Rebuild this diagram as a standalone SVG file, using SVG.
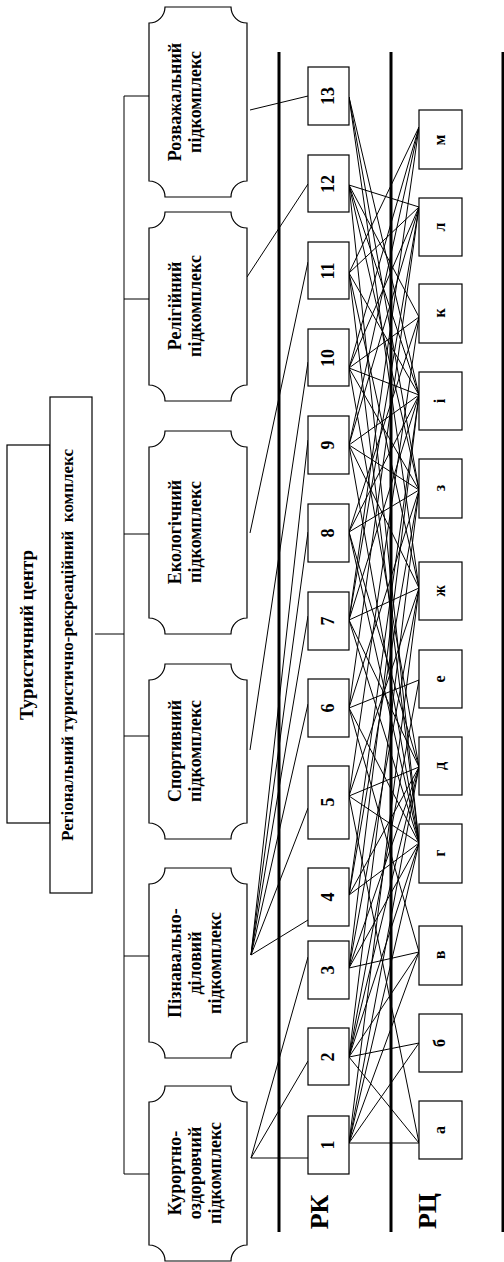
<svg xmlns="http://www.w3.org/2000/svg" width="504" height="1262" viewBox="0 0 504 1262">
<style>
.bx{fill:#fff;stroke:#000;stroke-width:1.2}
.t{font-family:"Liberation Serif","Times New Roman",serif;font-weight:bold;fill:#000;text-anchor:middle}
.sc{font-size:18px}
.num{font-size:18px}
.let{font-size:16px}
.ln{fill:none;stroke:#000;stroke-width:1}
.thick{stroke:#000;stroke-width:3}
</style>
<rect width="504" height="1262" fill="#fff"/>

<!-- axis lines and labels -->
<g id="axes">
<line class="thick" x1="279" y1="52" x2="279" y2="1232"/>
<line class="thick" x1="391" y1="52" x2="391" y2="1232"/>
<line class="thick" x1="503" y1="52" x2="503" y2="1232"/>
<text class="t" font-size="26" transform="translate(328,1212) rotate(-90)">РК</text>
<text class="t" font-size="26" transform="translate(436,1211) rotate(-90)">РЦ</text>
</g>

<g id="connectors" class="ln">
<!-- tree -->
<path d="M95,634 H124 M124,96 V1174 M124,96 H149 M124,299 H149 M124,534 H149 M124,736 H149 M124,956 H149 M124,1174 H149"/>
<!-- subcomplexes to RK -->
<path d="M250,110 L308,96 M247,277 L308,184 M250,533 L308,262 M250,750 L308,362
M251,955 L308,920 M251,955 L308,808 M251,955 L308,704 M251,955 L308,616 M251,955 L308,532 M251,955 L308,440
M251,1158 L308,1158 M251,1158 L308,1061 M251,1158 L308,957"/>
<!-- RK to RC -->
<path d="M349,1143 L419,1143 M349,1143 L419,1043 M349,1143 L419,952 M349,1143 L419,843 M349,1143 L419,767 M349,1143 L419,588"/>
<path d="M349,1057 L419,1143 M349,1057 L419,1043 M349,1057 L419,952 M349,1057 L419,843 M349,1057 L419,767 M349,1057 L419,680 M349,1057 L419,490"/>
<path d="M349,968 L419,952 M349,968 L419,843 M349,968 L419,767 M349,968 L419,588 M349,968 L419,395"/>
<path d="M349,895 L419,843 M349,895 L419,767 M349,895 L419,490 M349,895 L419,395"/>
<path d="M349,796 L419,1143 M349,796 L419,843 M349,796 L419,767 M349,796 L419,588 M349,796 L419,317"/>
<path d="M349,708 L419,952 M349,708 L419,843 M349,708 L419,680 M349,708 L419,490 M349,708 L419,207"/>
<path d="M349,620 L419,843 M349,620 L419,767 M349,620 L419,588 M349,620 L419,395 M349,620 L419,207 M349,620 L419,127"/>
<path d="M349,532 L419,843 M349,532 L419,767 M349,532 L419,490 M349,532 L419,395 M349,532 L419,317"/>
<path d="M349,445 L419,843 M349,445 L419,588 M349,445 L419,490 M349,445 L419,395 M349,445 L419,207 M349,445 L419,127"/>
<path d="M349,368 L419,767 M349,368 L419,490 M349,368 L419,395 M349,368 L419,317 M349,368 L419,207 M349,368 L419,127"/>
<path d="M349,273 L419,843 M349,273 L419,588 M349,273 L419,395 M349,273 L419,207 M349,273 L419,127"/>
<path d="M349,185 L419,843 M349,185 L419,490 M349,185 L419,395 M349,185 L419,317 M349,185 L419,207"/>
<path d="M349,97 L419,588 M349,97 L419,490 M349,97 L419,395"/>
</g>

<!-- top boxes -->
<g id="tourist-center">
<rect class="bx" x="7" y="445" width="43" height="378"/>
<text class="t" font-size="19" transform="translate(33,635) rotate(-90)">Туристичний центр</text>
</g>
<g id="regional-complex">
<rect class="bx" x="50" y="397" width="42" height="496"/>
<text class="t" font-size="17" xml:space="preserve" transform="translate(73,645) rotate(-90)">Регіональний туристично-рекреаційний  комплекс</text>
</g>

<!-- subcomplexes -->
<g id="sub-rozvazh">
<path class="bx" d="M149,23 A16,16 0 0 0 165,7 L231,7 A16,16 0 0 0 247,23 L247,181 A16,16 0 0 0 231,197 L165,197 A16,16 0 0 0 149,181 Z"/>
<text class="t sc" transform="translate(181,102) rotate(-90)"><tspan x="0" y="0">Розважальний</tspan><tspan x="0" y="20">підкомплекс</tspan></text>
</g>
<g id="sub-relig">
<path class="bx" d="M149,228 A16,16 0 0 0 165,212 L231,212 A16,16 0 0 0 247,228 L247,385 A16,16 0 0 0 231,401 L165,401 A16,16 0 0 0 149,385 Z"/>
<text class="t sc" transform="translate(181,306) rotate(-90)"><tspan x="0" y="0">Релігійний</tspan><tspan x="0" y="20">підкомплекс</tspan></text>
</g>
<g id="sub-ekol">
<path class="bx" d="M149,447 A16,16 0 0 0 165,431 L231,431 A16,16 0 0 0 247,447 L247,618 A16,16 0 0 0 231,634 L165,634 A16,16 0 0 0 149,618 Z"/>
<text class="t sc" transform="translate(181,532) rotate(-90)"><tspan x="0" y="0">Екологічний</tspan><tspan x="0" y="20">підкомплекс</tspan></text>
</g>
<g id="sub-sport">
<path class="bx" d="M149,680 A16,16 0 0 0 165,664 L231,664 A16,16 0 0 0 247,680 L247,823 A16,16 0 0 0 231,839 L165,839 A16,16 0 0 0 149,823 Z"/>
<text class="t sc" transform="translate(181,751) rotate(-90)"><tspan x="0" y="0">Спортивний</tspan><tspan x="0" y="20">підкомплекс</tspan></text>
</g>
<g id="sub-piznav">
<path class="bx" d="M149,884 A16,16 0 0 0 165,868 L231,868 A16,16 0 0 0 247,884 L247,1042 A16,16 0 0 0 231,1058 L165,1058 A16,16 0 0 0 149,1042 Z"/>
<text class="t sc" transform="translate(181,963) rotate(-90)"><tspan x="0" y="0">Пізнавально-</tspan><tspan x="0" y="20">діловий</tspan><tspan x="0" y="40">підкомплекс</tspan></text>
</g>
<g id="sub-kurort">
<path class="bx" d="M149,1102 A16,16 0 0 0 165,1086 L231,1086 A16,16 0 0 0 247,1102 L247,1245 A16,16 0 0 0 231,1261 L165,1261 A16,16 0 0 0 149,1245 Z"/>
<text class="t sc" transform="translate(181,1173) rotate(-90)"><tspan x="0" y="0">Курортно-</tspan><tspan x="0" y="20">оздоровчий</tspan><tspan x="0" y="40">підкомплекс</tspan></text>
</g>

<!-- RK nodes -->
<g id="rk-13"><rect class="bx" x="308" y="67" width="41" height="58"/><text class="t num" transform="translate(334,96) rotate(-90)">13</text></g>
<g id="rk-12"><rect class="bx" x="308" y="155" width="41" height="57"/><text class="t num" transform="translate(334,184) rotate(-90)">12</text></g>
<g id="rk-11"><rect class="bx" x="308" y="242" width="41" height="57"/><text class="t num" transform="translate(334,271) rotate(-90)">11</text></g>
<g id="rk-10"><rect class="bx" x="308" y="329" width="41" height="57"/><text class="t num" transform="translate(334,358) rotate(-90)">10</text></g>
<g id="rk-9"><rect class="bx" x="308" y="416" width="41" height="58"/><text class="t num" transform="translate(334,445) rotate(-90)">9</text></g>
<g id="rk-8"><rect class="bx" x="308" y="504" width="41" height="58"/><text class="t num" transform="translate(334,533) rotate(-90)">8</text></g>
<g id="rk-7"><rect class="bx" x="308" y="592" width="41" height="58"/><text class="t num" transform="translate(334,621) rotate(-90)">7</text></g>
<g id="rk-6"><rect class="bx" x="308" y="679" width="41" height="58"/><text class="t num" transform="translate(334,708) rotate(-90)">6</text></g>
<g id="rk-5"><rect class="bx" x="308" y="766" width="41" height="73"/><text class="t num" transform="translate(334,802) rotate(-90)">5</text></g>
<g id="rk-4"><rect class="bx" x="308" y="868" width="41" height="58"/><text class="t num" transform="translate(334,897) rotate(-90)">4</text></g>
<g id="rk-3"><rect class="bx" x="308" y="941" width="41" height="58"/><text class="t num" transform="translate(334,970) rotate(-90)">3</text></g>
<g id="rk-2"><rect class="bx" x="308" y="1028" width="41" height="57"/><text class="t num" transform="translate(334,1057) rotate(-90)">2</text></g>
<g id="rk-1"><rect class="bx" x="308" y="1116" width="41" height="58"/><text class="t num" transform="translate(334,1145) rotate(-90)">1</text></g>

<!-- RC nodes -->
<g id="rc-m"><rect class="bx" x="419" y="110" width="43" height="59"/><text class="t let" transform="translate(445,140) rotate(-90)">м</text></g>
<g id="rc-l"><rect class="bx" x="419" y="198" width="43" height="58"/><text class="t let" transform="translate(445,227) rotate(-90)">л</text></g>
<g id="rc-k"><rect class="bx" x="419" y="284" width="43" height="59"/><text class="t let" transform="translate(445,313) rotate(-90)">к</text></g>
<g id="rc-i"><rect class="bx" x="419" y="372" width="43" height="58"/><text class="t let" transform="translate(445,401) rotate(-90)">і</text></g>
<g id="rc-z"><rect class="bx" x="419" y="459" width="43" height="59"/><text class="t let" transform="translate(445,488) rotate(-90)">з</text></g>
<g id="rc-zh"><rect class="bx" x="419" y="562" width="43" height="58"/><text class="t let" transform="translate(445,591) rotate(-90)">ж</text></g>
<g id="rc-e"><rect class="bx" x="419" y="650" width="43" height="58"/><text class="t let" transform="translate(445,679) rotate(-90)">е</text></g>
<g id="rc-d"><rect class="bx" x="419" y="737" width="43" height="58"/><text class="t let" transform="translate(445,766) rotate(-90)">д</text></g>
<g id="rc-g"><rect class="bx" x="419" y="824" width="43" height="59"/><text class="t let" transform="translate(445,853) rotate(-90)">г</text></g>
<g id="rc-v"><rect class="bx" x="419" y="926" width="43" height="59"/><text class="t let" transform="translate(445,955) rotate(-90)">в</text></g>
<g id="rc-b"><rect class="bx" x="419" y="1014" width="43" height="58"/><text class="t let" transform="translate(445,1043) rotate(-90)">б</text></g>
<g id="rc-a"><rect class="bx" x="419" y="1101" width="43" height="58"/><text class="t let" transform="translate(445,1130) rotate(-90)">а</text></g>
</svg>
